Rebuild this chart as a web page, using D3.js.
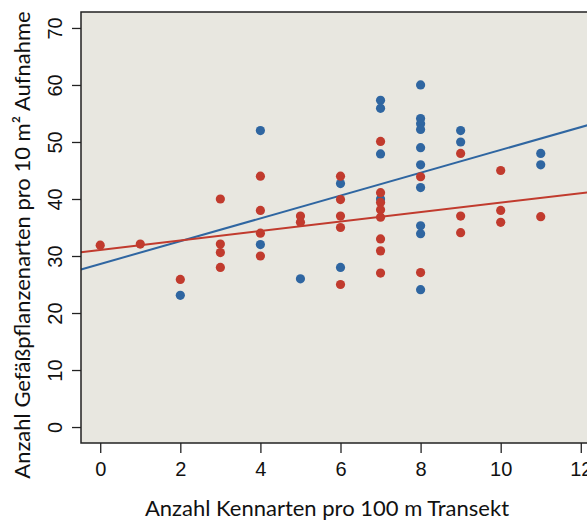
<!DOCTYPE html>
<html>
<head>
<meta charset="utf-8">
<script src="https://cdn.jsdelivr.net/npm/d3@7"></script>
<style>
  body { margin: 0; background: #fff; }
  svg { display: block; font-family: "Source Sans Pro", Lato, "Noto Sans", sans-serif; }
</style>
</head>
<body>
<svg id="chart"></svg>
<script>
// Data: x = Kennarten, y = Gefäßpflanzenarten
const blueX = [2, 4, 4, 5, 6, 6, 7, 7, 7, 7, 8, 8, 8, 8, 8, 8, 8, 8, 8, 8, 9, 9, 11, 11];
const blueY = [23.1, 52, 32, 26, 42.7, 28, 57.3, 55.9, 47.9, 40, 60, 54.1, 53.2, 52.2, 49, 46, 42, 35.3, 33.9, 24.1, 52, 50, 48, 46];

const redX = [0, 1, 2, 3, 3, 3, 3, 4, 4, 4, 4, 5, 5, 6, 6, 6, 6, 6, 7, 7, 7, 7, 7, 7, 7, 7, 8, 8, 9, 9, 9, 10, 10, 10, 11];
const redY = [31.9, 32.1, 25.9, 40, 32.1, 30.6, 28, 44, 38, 34, 30, 37, 35.9, 44, 39.9, 37, 35, 25, 50.1, 41.1, 39.4, 38.1, 36.8, 33, 30.9, 27, 43.9, 27.1, 48, 37, 34.1, 45, 38, 35.9, 36.9];

// regression lines (intercept, slope)
const fitNames = ["blue", "red"];
const fitIntercept = [28.6, 31.05];
const fitSlope = [2.0, 0.83];

const xTicks = [0, 2, 4, 6, 8, 10, 12];
const yTicks = [0, 10, 20, 30, 40, 50, 60, 70];

const colors = {blue: "#2f66a1", red: "#c13b2e"};

const width = 587, height = 522;
const margin = {top: 12, bottom: 79, left: 81, right: -13};

const svg = d3.select("#chart")
  .attr("width", width)
  .attr("height", height);

// R style: limits extended by 4%
const xScale = d3.scaleLinear()
  .domain([-0.48, 12.48])
  .range([margin.left, width - margin.right]);

const yScale = d3.scaleLinear()
  .domain([-2.8, 72.8])
  .range([height - margin.bottom, margin.top]);

const plotW = xScale.range()[1] - xScale.range()[0];
const plotH = yScale.range()[0] - yScale.range()[1];

// panel background
svg.append("rect")
  .attr("x", margin.left)
  .attr("y", margin.top)
  .attr("width", plotW)
  .attr("height", plotH)
  .attr("fill", "#e8e7e0");

// regression lines
const x0 = xScale.domain()[0], x1 = xScale.domain()[1];
fitNames.forEach((name, i) => {
  svg.append("line")
    .attr("x1", xScale(x0))
    .attr("y1", yScale(fitIntercept[i] + fitSlope[i] * x0))
    .attr("x2", xScale(x1))
    .attr("y2", yScale(fitIntercept[i] + fitSlope[i] * x1))
    .attr("stroke", colors[name])
    .attr("stroke-width", 2);
});

// points: blue first, red drawn over
svg.append("g").selectAll("circle")
  .data(d3.zip(blueX, blueY))
  .join("circle")
  .attr("cx", d => xScale(d[0]))
  .attr("cy", d => yScale(d[1]))
  .attr("r", 4.6)
  .attr("fill", colors.blue);

svg.append("g").selectAll("circle")
  .data(d3.zip(redX, redY))
  .join("circle")
  .attr("cx", d => xScale(d[0]))
  .attr("cy", d => yScale(d[1]))
  .attr("r", 4.6)
  .attr("fill", colors.red);

// frame
svg.append("rect")
  .attr("x", margin.left)
  .attr("y", margin.top)
  .attr("width", plotW)
  .attr("height", plotH)
  .attr("fill", "none")
  .attr("stroke", "#222")
  .attr("stroke-width", 1.5);

// x axis
const xAxis = svg.append("g")
  .attr("transform", `translate(0,${height - margin.bottom})`)
  .call(d3.axisBottom(xScale).tickValues(xTicks).tickSize(10).tickPadding(9));
xAxis.select(".domain").remove();
xAxis.selectAll("line").attr("stroke", "#222").attr("stroke-width", 1.3);
xAxis.selectAll("text").attr("font-size", 20).attr("fill", "#111").attr("font-family", null);

// y axis, labels parallel to axis
const yAxis = svg.append("g")
  .attr("transform", `translate(${margin.left},0)`)
  .call(d3.axisLeft(yScale).tickValues(yTicks).tickSize(9).tickPadding(0));
yAxis.select(".domain").remove();
yAxis.selectAll("line").attr("stroke", "#222").attr("stroke-width", 1.3);
yAxis.selectAll("text")
  .attr("font-size", 20)
  .attr("fill", "#111")
  .attr("font-family", null)
  .attr("x", 0)
  .attr("dy", null)
  .attr("text-anchor", "middle")
  .attr("transform", "translate(-19,0) rotate(-90)");

// axis titles
svg.append("text")
  .attr("x", 327)
  .attr("y", 516)
  .attr("text-anchor", "middle")
  .attr("font-size", 22)
  .attr("fill", "#111")
  .text("Anzahl Kennarten pro 100 m Transekt");

svg.append("text")
  .attr("transform", "translate(30,245) rotate(-90)")
  .attr("text-anchor", "middle")
  .attr("font-size", 22)
  .attr("fill", "#111")
  .text("Anzahl Gefäßpflanzenarten pro 10 m² Aufnahme");
</script>
</body>
</html>
